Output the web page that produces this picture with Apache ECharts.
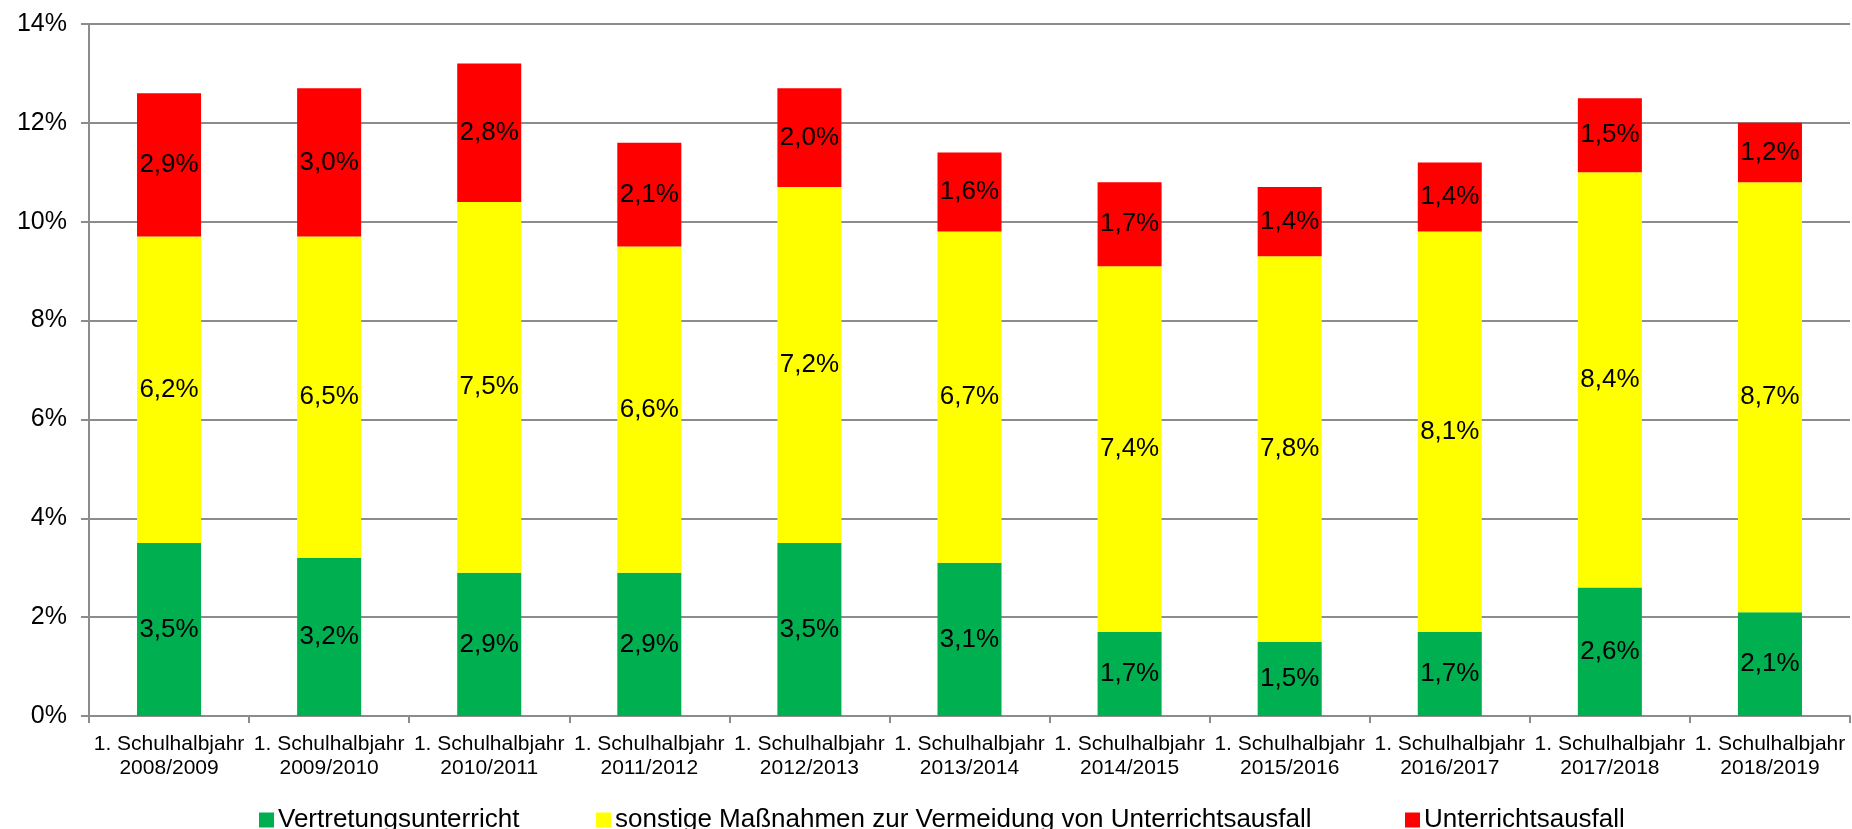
<!DOCTYPE html>
<html>
<head>
<meta charset="utf-8">
<script src="https://cdn.jsdelivr.net/npm/echarts@6/dist/echarts.min.js"></script>
<style>
  html, body { margin: 0; padding: 0; background: #fff; }
  #chart { width: 1852px; height: 829px; }
</style>
</head>
<body>
<div id="chart"></div>
<script>
// School half-years
const categories = [
  '1. Schulhalbjahr\n2008/2009', '1. Schulhalbjahr\n2009/2010', '1. Schulhalbjahr\n2010/2011',
  '1. Schulhalbjahr\n2011/2012', '1. Schulhalbjahr\n2012/2013', '1. Schulhalbjahr\n2013/2014',
  '1. Schulhalbjahr\n2014/2015', '1. Schulhalbjahr\n2015/2016', '1. Schulhalbjahr\n2016/2017',
  '1. Schulhalbjahr\n2017/2018', '1. Schulhalbjahr\n2018/2019'
];

// Shares in percent
const vertretung = [3.5, 3.2, 2.9, 2.9, 3.5, 3.1, 1.7, 1.5, 1.7, 2.6, 2.1];
const sonstige   = [6.2, 6.5, 7.5, 6.6, 7.2, 6.7, 7.4, 7.8, 8.1, 8.4, 8.7];
const ausfall    = [2.9, 3.0, 2.8, 2.1, 2.0, 1.6, 1.7, 1.4, 1.4, 1.5, 1.2];

const seriesNames = [
  'Vertretungsunterricht',
  'sonstige Maßnahmen zur Vermeidung von Unterrichtsausfall',
  'Unterrichtsausfall'
];
const colors = ['#00B050', '#FFFF00', '#FF0000'];

const FONT = 'Liberation Sans, Arial, sans-serif';
const fmt = v => v.toFixed(1).replace('.', ',') + '%';

function barSeries(name, data, color) {
  return {
    name: name,
    type: 'bar',
    stack: 'total',
    barWidth: '40%',
    data: data,
    itemStyle: { color: color },
    label: {
      show: true,
      position: 'inside',
      color: '#000',
      fontFamily: FONT,
      fontSize: 26,
      formatter: p => fmt(p.value)
    }
  };
}

function legendAt(left, idx) {
  return {
    data: [seriesNames[idx]],
    left: left,
    top: 802,
    itemWidth: 15,
    itemHeight: 15,
    icon: 'rect',
    itemGap: 0,
    textStyle: { fontFamily: FONT, fontSize: 26, color: '#000', padding: [0, 0, 0, -1] },
    selectedMode: false
  };
}

const chart = echarts.init(document.getElementById('chart'));
chart.setOption({
  animation: false,
  backgroundColor: '#fff',
  color: colors,
  grid: { left: 89, right: 2, top: 24, bottom: 113, containLabel: false },
  legend: [legendAt(254, 0), legendAt(591, 1), legendAt(1400, 2)],
  xAxis: {
    type: 'category',
    data: categories,
    axisLine: { lineStyle: { color: '#8c8c8c', width: 2 } },
    axisTick: { show: true, length: 7, lineStyle: { color: '#8c8c8c', width: 2 } },
    axisLabel: {
      color: '#000',
      fontFamily: FONT,
      fontSize: 21,
      lineHeight: 24,
      margin: 16,
      interval: 0
    }
  },
  yAxis: {
    type: 'value',
    min: 0,
    max: 14,
    interval: 2,
    axisLine: { show: true, lineStyle: { color: '#8c8c8c', width: 2 } },
    axisTick: { show: true, length: 8, lineStyle: { color: '#8c8c8c', width: 2 } },
    splitLine: { lineStyle: { color: '#8c8c8c', width: 2 } },
    axisLabel: {
      color: '#000',
      fontFamily: FONT,
      fontSize: 25,
      margin: 22,
      formatter: '{value}%'
    }
  },
  series: [
    barSeries(seriesNames[0], vertretung, colors[0]),
    barSeries(seriesNames[1], sonstige, colors[1]),
    barSeries(seriesNames[2], ausfall, colors[2])
  ]
});
</script>
</body>
</html>
